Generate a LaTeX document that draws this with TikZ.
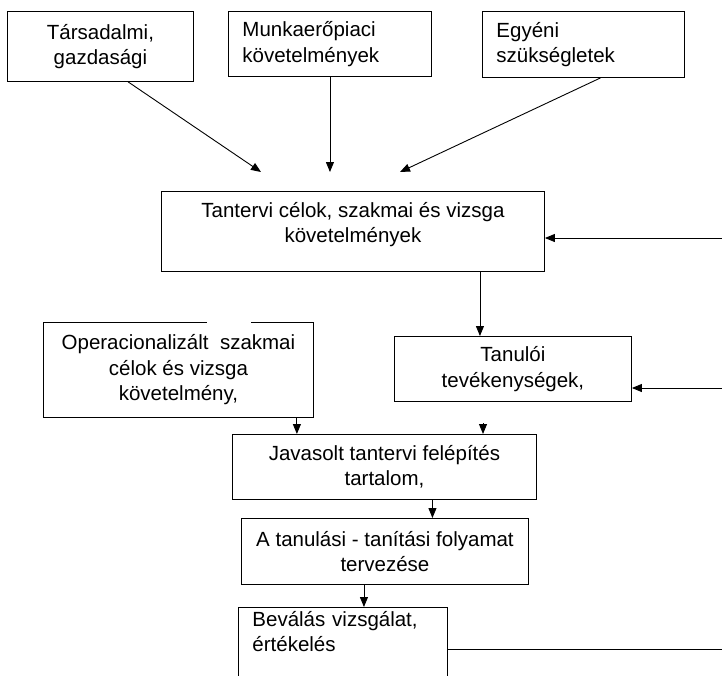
\documentclass[tikz,border=0pt]{standalone}
\usepackage{fontspec}
\setmainfont{Liberation Sans}
\usetikzlibrary{positioning,calc,arrows.meta,shapes}
\tikzset{
  every node/.style={font=\fontsize{20.5}{25.5}\selectfont},
  doboz/.style={draw, rectangle, line width=0.9pt, anchor=north west, inner xsep=14pt, inner ysep=2pt},
  kozep/.style={doboz, align=center},
  balra/.style={doboz, align=left},
  >={Triangle[length=10pt,width=8pt]}
}
\begin{document}
\begin{tikzpicture}[x=1pt, y=-1pt, line width=0.9pt, ->]
    \useasboundingbox (0,0) rectangle (722,675);
    \clip (0,0) rectangle (722,675);
    \node at (7, 11) [kozep, minimum width=186pt, minimum height=70pt] (tars) {Társadalmi,\\gazdasági};
    \node at (228, 11) [balra, text width=175pt, minimum height=65pt] (mun) {Munkaerőpiaci\\követelmények};
    \node at (482, 11) [balra, text width=174pt, minimum height=66pt] (egy) {Egyéni\\szükségletek};
    \node at (161, 191) [kozep, minimum width=383pt, minimum height=80pt, text depth=18pt] (cel) {Tantervi célok, szakmai és vizsga\\követelmények};
    \node at (43, 322) [kozep, minimum width=270pt, minimum height=95pt] (op) {Operacionalizált\ \ szakmai\\célok és vizsga\\követelmény,};
    \node at (394, 336) [kozep, minimum width=237pt, minimum height=65pt] (tan) {Tanulói\\tevékenységek,};
    \node at (232, 434) [kozep, minimum width=304pt, minimum height=65pt] (jav) {Javasolt tantervi felépítés\\tartalom,};
    \node at (241, 518) [kozep, minimum width=287pt, minimum height=66pt] (tls) {A tanulási - tanítási folyamat\\tervezése};
    \node at (238, 607) [balra, text width=181pt, text height=17pt, text depth=90pt] (bev) {Beválás vizsgálat,\\értékelés};

    \coordinate (c1) at (261, 172);
    \coordinate (c3) at (400, 172);
    \coordinate (c4) at (483, 423);
    \coordinate (j1) at (722, 238);
    \coordinate (j2) at (722, 388);
    \coordinate (j3) at (722, 649);

    \draw (tars.-52) -- (c1);
    \draw (mun.south) -- (mun.south |- c1);
    \draw (egy.-63) -- (c3);
    \draw (j1) -- (j1 -| cel.east);
    \draw ([xshift=127pt]cel.south) -- ([xshift=-33pt]tan.north);
    \draw (j2) -- (j2 -| tan.east);
    \draw ([xshift=-17pt]op.south east) -- ([xshift=-17pt]op.south east |- jav.north);
    \draw (c4) -- (c4 |- jav.north);
    \draw ([xshift=48pt]jav.south) -- ([xshift=48pt]jav.south |- tls.north);
    \draw ([xshift=-21pt]tls.south) -- ([xshift=-21pt]tls.south |- bev.north);
    \draw[-] (bev.east |- j3) -- (j3);

    \draw[-, white, line width=2pt] ([xshift=164pt]op.north west) -- ([xshift=208pt]op.north west);
\end{tikzpicture}
\end{document}
